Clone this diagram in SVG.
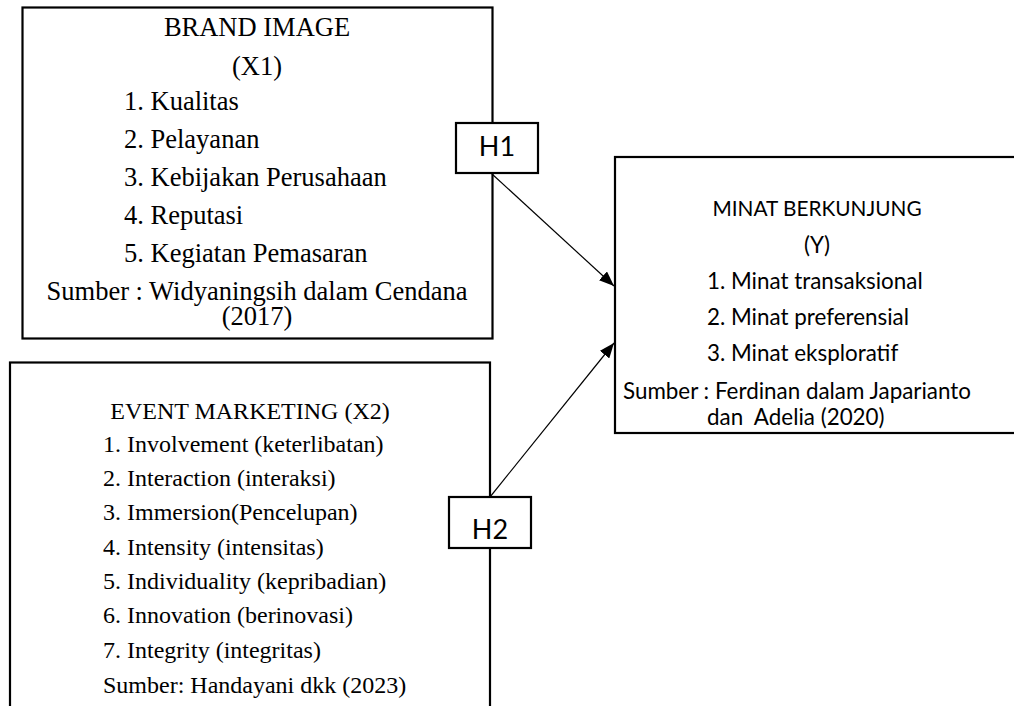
<svg xmlns="http://www.w3.org/2000/svg" width="1014" height="706" viewBox="0 0 1014 706">
<style>
.box{fill:#fff;stroke:#000;stroke-width:2.2}
.ser{font-family:"Liberation Serif","Times New Roman",serif;fill:#000}
.s1{font-size:26.5px}
.s2{font-size:24px}
.san{font-family:Lato,"Noto Sans",sans-serif;fill:#000;font-size:22.4px}
.ttl{font-size:20.8px}
.h{font-family:Lato,"Noto Sans",sans-serif;fill:#000;font-size:27px;text-anchor:middle}
.mid{text-anchor:middle}
.conn{stroke:#000;stroke-width:1.2;fill:none}
</style>
<defs>
<marker id="arr" markerUnits="userSpaceOnUse" markerWidth="16" markerHeight="12" refX="15" refY="6" orient="auto">
<path d="M0,0 L15,6 L0,12 z" fill="#000"/>
</marker>
</defs>
<g id="brand-image">
<rect class="box" x="22.5" y="7.5" width="470" height="331"/>
<text class="ser s1 mid" x="257" y="36">BRAND IMAGE</text>
<text class="ser s1 mid" x="257" y="75">(X1)</text>
<text class="ser s1" x="124" y="110">1. Kualitas</text>
<text class="ser s1" x="124" y="148">2. Pelayanan</text>
<text class="ser s1" x="124" y="186">3. Kebijakan Perusahaan</text>
<text class="ser s1" x="124" y="224">4. Reputasi</text>
<text class="ser s1" x="124" y="262">5. Kegiatan Pemasaran</text>
<text class="ser s1 mid" x="257" y="300">Sumber : Widyaningsih dalam Cendana<tspan x="257" y="325">(2017)</tspan></text>
</g>
<g id="event-marketing">
<rect class="box" x="10" y="362.5" width="480" height="360"/>
<text class="ser s2 mid" x="250" y="419">EVENT MARKETING (X2)</text>
<text class="ser s2" x="103" y="452">1. Involvement (keterlibatan)</text>
<text class="ser s2" x="103" y="486">2. Interaction (interaksi)</text>
<text class="ser s2" x="103" y="520">3. Immersion(Pencelupan)</text>
<text class="ser s2" x="103" y="555">4. Intensity (intensitas)</text>
<text class="ser s2" x="103" y="589">5. Individuality (kepribadian)</text>
<text class="ser s2" x="103" y="623">6. Innovation (berinovasi)</text>
<text class="ser s2" x="103" y="658">7. Integrity (integritas)</text>
<text class="ser s2" x="103" y="693">Sumber: Handayani dkk (2023)</text>
</g>
<g id="minat-berkunjung">
<rect class="box" x="615" y="157" width="420" height="276"/>
<text class="san ttl mid" x="817" y="216">MINAT BERKUNJUNG</text>
<text class="san mid" x="817" y="253">(Y)</text>
<text class="san" x="707" y="289">1. Minat transaksional</text>
<text class="san" x="707" y="325">2. Minat preferensial</text>
<text class="san" x="707" y="361">3. Minat eksploratif</text>
<text class="san" x="623" y="399">Sumber : Ferdinan dalam Japarianto<tspan x="707" y="425" style="white-space:pre">dan  Adelia (2020)</tspan></text>
</g>
<g id="connectors">
<line class="conn" x1="492" y1="174" x2="614" y2="286" marker-end="url(#arr)"/>
<line class="conn" x1="490" y1="497" x2="614" y2="343" marker-end="url(#arr)"/>
</g>
<g id="h1">
<rect class="box" x="456" y="123" width="82" height="50"/>
<text class="h" x="497" y="156">H1</text>
</g>
<g id="h2">
<rect class="box" x="449" y="497" width="82" height="51"/>
<text class="h" x="490" y="539">H2</text>
</g>
</svg>
